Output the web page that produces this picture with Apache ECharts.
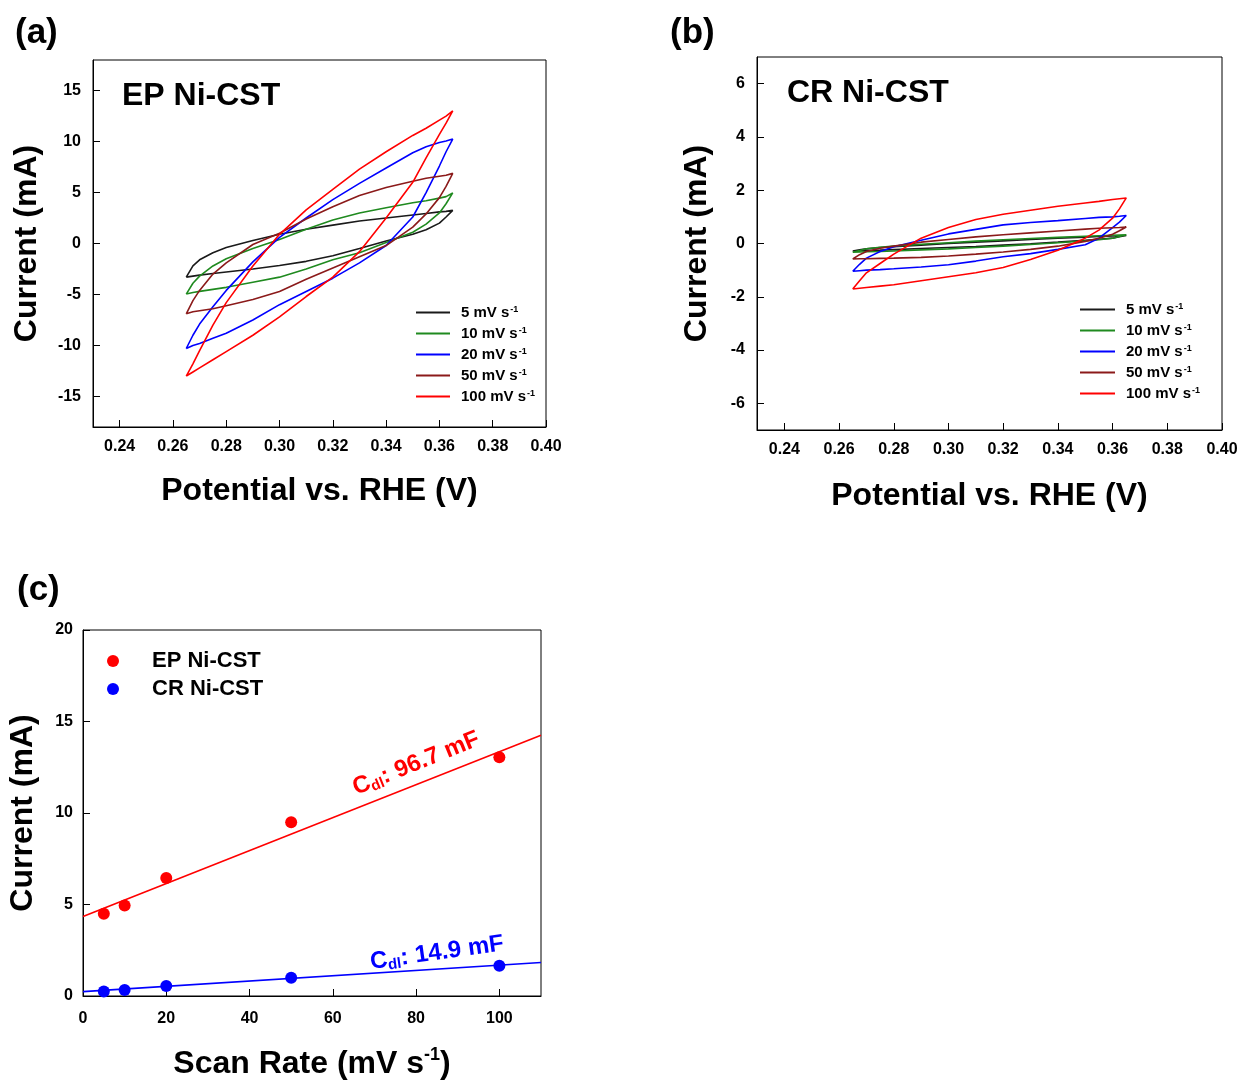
<!DOCTYPE html>
<html><head><meta charset="utf-8">
<script src="https://cdn.jsdelivr.net/npm/echarts@6/dist/echarts.min.js"></script>
<style>html,body{margin:0;padding:0;background:#fff}#c{width:1242px;height:1082px}</style>
</head><body><div id="c"></div>
<script>
const FONT = '"Liberation Sans", Arial, Helvetica, sans-serif';

// ---------- panel (a)/(b) potentials ----------
const potUp   = [0.265, 0.2675, 0.27, 0.275, 0.28, 0.29, 0.30, 0.31, 0.32, 0.33, 0.34, 0.35, 0.355, 0.36, 0.3625, 0.365];
const potDown = [0.365, 0.3625, 0.36, 0.355, 0.35, 0.34, 0.33, 0.32, 0.31, 0.30, 0.29, 0.28, 0.275, 0.27, 0.2675, 0.265];

const rateLabels = ['5 mV s-1', '10 mV s-1', '20 mV s-1', '50 mV s-1', '100 mV s-1'];
const rateColors = ['#1a1a1a', '#1f8a1f', '#0000ff', '#8b1a1a', '#ff0000'];

// EP Ni-CST (a) currents, mA
const epUp5    = [-3.3, -2.2, -1.6, -0.9, -0.4, 0.3, 0.9, 1.4, 1.8, 2.2, 2.5, 2.8, 2.95, 3.1, 3.15, 3.25];
const epDown5  = [3.25, 2.6, 2.0, 1.35, 0.9, 0.25, -0.5, -1.2, -1.75, -2.15, -2.5, -2.8, -2.95, -3.1, -3.2, -3.3];
const epUp10   = [-4.96, -3.9, -3.2, -2.2, -1.5, -0.5, 0.4, 1.4, 2.3, 3.0, 3.5, 4.0, 4.2, 4.45, 4.6, 4.96];
const epDown10 = [4.96, 3.9, 3.0, 1.9, 1.1, 0.1, -0.9, -1.6, -2.5, -3.3, -3.8, -4.3, -4.5, -4.7, -4.8, -4.96];
const epUp20   = [-10.3, -9.0, -7.9, -6.2, -4.6, -1.8, 0.6, 2.5, 4.3, 5.9, 7.4, 8.9, 9.5, 9.9, 10.05, 10.25];
const epDown20 = [10.25, 9.0, 7.6, 5.0, 2.6, -0.2, -1.9, -3.4, -4.7, -6.0, -7.5, -8.8, -9.3, -9.8, -10.0, -10.3];
const epUp50   = [-6.9, -5.6, -4.6, -3.0, -1.9, -0.1, 1.0, 2.4, 3.6, 4.7, 5.5, 6.1, 6.4, 6.6, 6.7, 6.88];
const epDown50 = [6.88, 5.6, 4.5, 2.9, 1.6, -0.2, -1.3, -2.4, -3.5, -4.7, -5.5, -6.1, -6.4, -6.6, -6.7, -6.9];
const epUp100  = [-13.0, -11.8, -10.5, -8.0, -5.8, -2.2, 0.9, 3.3, 5.3, 7.3, 9.0, 10.6, 11.3, 12.1, 12.5, 13.0];
const epDown100= [13.0, 11.8, 10.7, 8.4, 6.0, 2.5, -0.8, -3.3, -5.2, -7.2, -9.0, -10.6, -11.4, -12.2, -12.6, -13.0];

// CR Ni-CST (b) currents, mA
const crUp5    = [-0.28, -0.24, -0.2, -0.15, -0.12, -0.06, 0.0, 0.05, 0.1, 0.15, 0.2, 0.24, 0.26, 0.28, 0.29, 0.3];
const crDown5  = [0.3, 0.25, 0.2, 0.16, 0.12, 0.05, -0.01, -0.06, -0.11, -0.15, -0.19, -0.23, -0.25, -0.26, -0.27, -0.28];
const crUp10   = [-0.33, -0.26, -0.2, -0.14, -0.1, -0.03, 0.03, 0.09, 0.14, 0.19, 0.23, 0.27, 0.29, 0.31, 0.32, 0.33];
const crDown10 = [0.33, 0.26, 0.2, 0.14, 0.1, 0.03, -0.04, -0.1, -0.15, -0.2, -0.24, -0.28, -0.3, -0.31, -0.32, -0.33];
const crUp20   = [-1.04, -0.78, -0.55, -0.3, -0.12, 0.12, 0.36, 0.53, 0.7, 0.79, 0.86, 0.94, 0.98, 1.0, 1.02, 1.05];
const crDown20 = [1.05, 0.8, 0.6, 0.2, -0.05, -0.22, -0.38, -0.5, -0.66, -0.8, -0.88, -0.95, -0.98, -1.0, -1.02, -1.04];
const crUp50   = [-0.58, -0.42, -0.3, -0.18, -0.1, 0.05, 0.15, 0.25, 0.33, 0.4, 0.47, 0.54, 0.57, 0.59, 0.6, 0.62];
const crDown50 = [0.62, 0.48, 0.35, 0.2, 0.08, -0.1, -0.22, -0.32, -0.4, -0.47, -0.52, -0.55, -0.56, -0.57, -0.575, -0.58];
const crUp100  = [-1.71, -1.4, -1.1, -0.75, -0.4, 0.2, 0.6, 0.9, 1.1, 1.25, 1.4, 1.52, 1.58, 1.65, 1.68, 1.71];
const crDown100= [1.71, 1.3, 0.95, 0.5, 0.2, -0.25, -0.6, -0.9, -1.1, -1.25, -1.4, -1.55, -1.6, -1.65, -1.68, -1.71];

// tick labels
const potTicks = [0.24, 0.26, 0.28, 0.30, 0.32, 0.34, 0.36, 0.38, 0.40];
const epTicks  = [-15, -10, -5, 0, 5, 10, 15];
const crTicks  = [-6, -4, -2, 0, 2, 4, 6];
const rateTicks = [0, 20, 40, 60, 80, 100];
const cTicks   = [0, 5, 10, 15, 20];

// ---------- panel (c) ----------
const scanRates = [5, 10, 20, 50, 100];
const epCurrent = [4.5, 4.95, 6.45, 9.5, 13.05];
const crCurrent = [0.25, 0.33, 0.55, 1.0, 1.65];
const fitX      = [0, 110];
const epFitY    = [4.35, 14.25];
const crFitY    = [0.24, 1.83];
const epAnno    = [80, 12.7];
const crAnno    = [85, 2.35];

function loop(up, down) {
  return potUp.map((x, i) => [x, up[i]]).concat(potDown.map((x, i) => [x, down[i]]));
}
const epLoops = [[epUp5, epDown5], [epUp10, epDown10], [epUp20, epDown20], [epUp50, epDown50], [epUp100, epDown100]];
const crLoops = [[crUp5, crDown5], [crUp10, crDown10], [crUp20, crDown20], [crUp50, crDown50], [crUp100, crDown100]];

const bold = { fontFamily: FONT, fontWeight: 'bold', color: '#000' };
const legendRich = {
  n: { ...bold, fontSize: 15, lineHeight: 15 },
  s: { ...bold, fontSize: 9, lineHeight: 15, verticalAlign: 'top', padding: [0, 0, 0, 1] }
};
function legendFmt(name) {
  const base = name.replace(' s-1', ' s');
  return '{n|' + base + '}{s|-1}';
}

function valueAxisX(gridIndex, min, max, ticks, nameText, nameGap, margin, fmt) {
  return {
    type: 'value', gridIndex, min, max,
    axisLine: { show: true, onZero: false, lineStyle: { color: '#000', width: 1 } },
    axisTick: { show: true, inside: true, length: 7, customValues: ticks, lineStyle: { color: '#000' } },
    axisLabel: { customValues: ticks, margin, formatter: fmt, ...bold, fontSize: 16 },
    splitLine: { show: false },
    name: nameText, nameLocation: 'middle', nameGap,
    nameTextStyle: { ...bold, fontSize: 32, rich: {
      a: { ...bold, fontSize: 32, lineHeight: 36 },
      b: { ...bold, fontSize: 18, lineHeight: 36, verticalAlign: 'top' } } }
  };
}
function valueAxisY(gridIndex, min, max, ticks, nameGap, margin) {
  return {
    type: 'value', gridIndex, min, max,
    axisLine: { show: true, onZero: false, lineStyle: { color: '#000', width: 1 } },
    axisTick: { show: true, inside: true, length: 7, customValues: ticks, lineStyle: { color: '#000' } },
    axisLabel: { customValues: ticks, margin, ...bold, fontSize: 16 },
    splitLine: { show: false },
    name: 'Current (mA)', nameLocation: 'middle', nameGap,
    nameTextStyle: { ...bold, fontSize: 32 }
  };
}

const series = [];
epLoops.forEach((lp, i) => series.push({
  type: 'line', name: rateLabels[i], xAxisIndex: 0, yAxisIndex: 0,
  data: loop(lp[0], lp[1]), symbol: 'none', smooth: false,
  lineStyle: { color: rateColors[i], width: 1.6 }, itemStyle: { color: rateColors[i] }
}));
crLoops.forEach((lp, i) => series.push({
  type: 'line', name: rateLabels[i], xAxisIndex: 1, yAxisIndex: 1,
  data: loop(lp[0], lp[1]), symbol: 'none', smooth: false,
  lineStyle: { color: rateColors[i], width: 1.6 }, itemStyle: { color: rateColors[i] }
}));
series.push({
  type: 'line', name: 'EP fit', xAxisIndex: 2, yAxisIndex: 2, symbol: 'none',
  data: fitX.map((x, i) => [x, epFitY[i]]), lineStyle: { color: '#ff0000', width: 1.6 }
});
series.push({
  type: 'line', name: 'CR fit', xAxisIndex: 2, yAxisIndex: 2, symbol: 'none',
  data: fitX.map((x, i) => [x, crFitY[i]]), lineStyle: { color: '#0000ff', width: 1.6 }
});
series.push({
  type: 'scatter', name: 'EP Ni-CST', xAxisIndex: 2, yAxisIndex: 2, symbolSize: 12,
  data: scanRates.map((x, i) => [x, epCurrent[i]]), itemStyle: { color: '#ff0000', opacity: 1 }
});
series.push({
  type: 'scatter', name: 'CR Ni-CST', xAxisIndex: 2, yAxisIndex: 2, symbolSize: 12,
  data: scanRates.map((x, i) => [x, crCurrent[i]]), itemStyle: { color: '#0000ff', opacity: 1 }
});
function annoSeries(pt, color, text, rot) {
  return {
    type: 'scatter', name: 'anno ' + text, xAxisIndex: 2, yAxisIndex: 2, symbolSize: 2, silent: true,
    itemStyle: { color: 'rgba(255,255,255,0)', opacity: 1 }, data: [pt], z: 5,
    label: { show: true, position: 'inside', rotate: rot, color, opacity: 1,
      formatter: '{c|C}{d|dl}{c|: ' + text + '}',
      rich: {
        c: { ...bold, color, fontSize: 24, lineHeight: 26 },
        d: { ...bold, color, fontSize: 15, lineHeight: 26, verticalAlign: 'bottom' }
      } },
    labelLayout: { hideOverlap: false }
  };
}
series.push(annoSeries(epAnno, '#ff0000', '96.7 mF', 22));
series.push(annoSeries(crAnno, '#0000ff', '14.9 mF', 8));

const potFmt = v => v.toFixed(2);

const option = {
  animation: false,
  backgroundColor: '#fff',
  title: [
    { text: '(a)', left: 10, top: 11, textStyle: { ...bold, fontSize: 35 } },
    { text: '(b)', left: 665, top: 11, textStyle: { ...bold, fontSize: 35 } },
    { text: '(c)', left: 12, top: 568, textStyle: { ...bold, fontSize: 35 } },
    { text: 'EP Ni-CST', left: 117, top: 75, textStyle: { ...bold, fontSize: 32 } },
    { text: 'CR Ni-CST', left: 782, top: 72, textStyle: { ...bold, fontSize: 32 } }
  ],
  grid: [
    { left: 93, top: 60, width: 453, height: 367, show: true, borderColor: '#000', borderWidth: 1, backgroundColor: 'transparent' },
    { left: 757, top: 57, width: 465, height: 373, show: true, borderColor: '#000', borderWidth: 1, backgroundColor: 'transparent' },
    { left: 83, top: 630, width: 458, height: 366, show: true, borderColor: '#000', borderWidth: 1, backgroundColor: 'transparent' }
  ],
  xAxis: [
    valueAxisX(0, 0.23, 0.40, potTicks, 'Potential vs. RHE (V)', 48, 12, potFmt),
    valueAxisX(1, 0.23, 0.40, potTicks, 'Potential vs. RHE (V)', 50, 12, potFmt),
    valueAxisX(2, 0, 110, rateTicks, '{a|Scan Rate (mV s}{b|-1}{a|)}', 50, 15, v => String(v))
  ],
  yAxis: [
    valueAxisY(0, -18, 18, epTicks, 50, 12),
    valueAxisY(1, -7, 7, crTicks, 44, 12),
    valueAxisY(2, 0, 20, cTicks, 44, 10)
  ],
  legend: [
    { data: rateLabels, left: 411, top: 300, orient: 'vertical', icon: 'rect', itemWidth: 34, itemHeight: 2,
      itemGap: 6, selectedMode: false, formatter: legendFmt,
      textStyle: { ...bold, fontSize: 15, padding: [0, 0, 0, 6], rich: legendRich } },
    { data: rateLabels, left: 1075, top: 297, orient: 'vertical', icon: 'rect', itemWidth: 35, itemHeight: 2,
      itemGap: 6, selectedMode: false, formatter: legendFmt,
      textStyle: { ...bold, fontSize: 15, padding: [0, 0, 0, 6], rich: legendRich } },
    { data: ['EP Ni-CST', 'CR Ni-CST'], left: 102, top: 645, orient: 'vertical', icon: 'circle',
      itemWidth: 12, itemHeight: 12, itemGap: 6, selectedMode: false,
      textStyle: { ...bold, fontSize: 22, lineHeight: 22, padding: [0, 0, 0, 28] } }
  ],
  series
};

const chart = echarts.init(document.getElementById('c'), null, { renderer: 'canvas' });
chart.setOption(option);
</script>
</body></html>
